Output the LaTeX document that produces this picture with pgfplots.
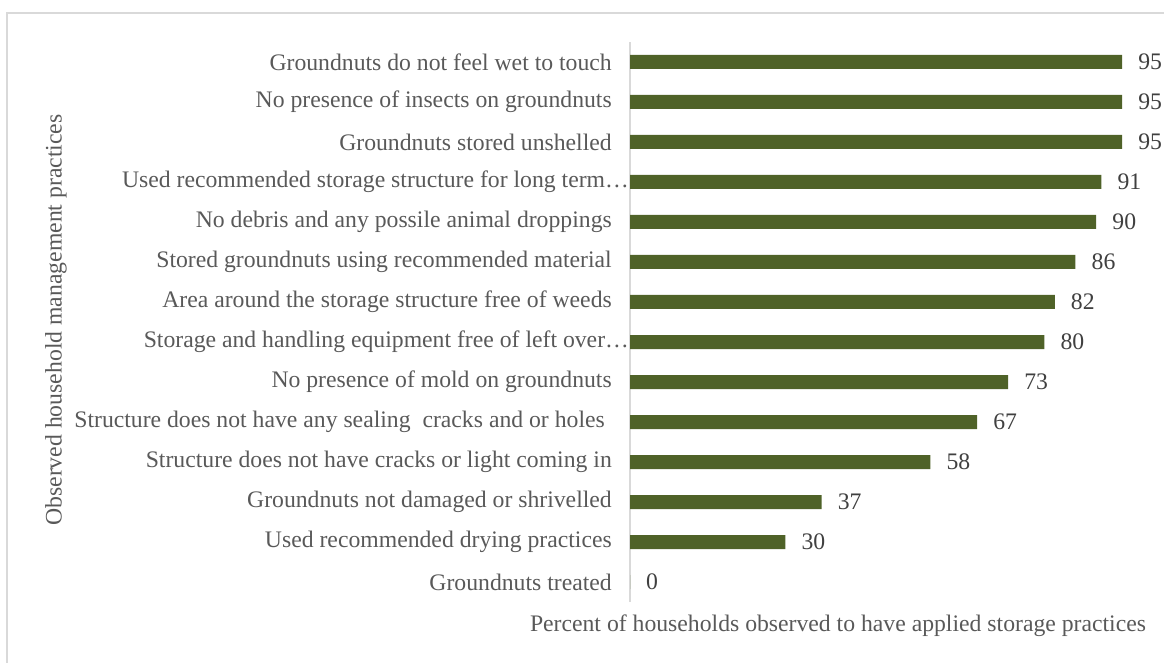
\documentclass[border=0pt]{standalone}
\usepackage{fontspec}
\setmainfont{Liberation Serif}
\usepackage{pgfplots}
\pgfplotsset{compat=1.18}
\definecolor{barcol}{HTML}{4F6228}
\definecolor{txt}{HTML}{595959}
\definecolor{numtxt}{HTML}{404040}
\definecolor{axgray}{HTML}{D9D9D9}
\newcommand{\cf}{\fontsize{23.7pt}{28pt}\selectfont}
\begin{document}
\begin{tikzpicture}
\useasboundingbox (0,0) rectangle (1164pt,662pt);
\draw[color=axgray, line width=2pt] (7pt,-10pt) -- (7pt,649pt) -- (1175pt,649pt);
\begin{axis}[
  at={(630pt,60pt)}, anchor=south west,
  scale only axis, width=518pt, height=560pt,
  xbar, bar width=14pt,
  xmin=0, xmax=100, ymin=-0.5, ymax=13.5,
  axis x line=none, axis y line*=left,
  y axis line style={-, draw=axgray, line width=2pt},
  major tick length=0pt,
  ytick={0,...,13},
  yticklabels={
    Groundnuts treated,
    Used recommended drying practices,
    Groundnuts not damaged or shrivelled,
    Structure does not have cracks or light coming in,
    {Structure does not have any sealing~ cracks and or holes\hspace*{7pt}},
    No presence of mold on groundnuts,
    {Storage and handling equipment free of left over…\hspace*{-17pt}},
    Area around the storage structure free of weeds,
    Stored groundnuts using recommended material,
    No debris and any possile animal droppings,
    {Used recommended storage structure for long term…\hspace*{-17pt}},
    Groundnuts stored unshelled,
    No presence of insects on groundnuts,
    Groundnuts do not feel wet to touch},
  yticklabel style={font=\cf, text=txt, anchor=east, inner sep=0pt, xshift=-18pt},
  /pgf/number format/assume math mode=true,
  nodes near coords,
  every node near coord/.append style={font=\cf, text=numtxt, anchor=west, inner sep=0pt, xshift=16pt},
  ylabel={Observed household management practices},
  ylabel style={font=\cf, text=txt, at={(axis description cs:-1.108,0.5036)}, anchor=center, rotate=0},
  clip=false,
]
\addplot[fill=barcol, draw=none] coordinates {
  (0,0) (30,1) (37,2) (58,3) (67,4) (73,5) (80,6) (82,7) (86,8) (90,9) (91,10) (95,11) (95,12) (95,13)
};
\end{axis}
\node[font=\cf, text=txt, anchor=center] at (838pt,36pt) {Percent of households observed to have applied storage practices};
\end{tikzpicture}
\end{document}
